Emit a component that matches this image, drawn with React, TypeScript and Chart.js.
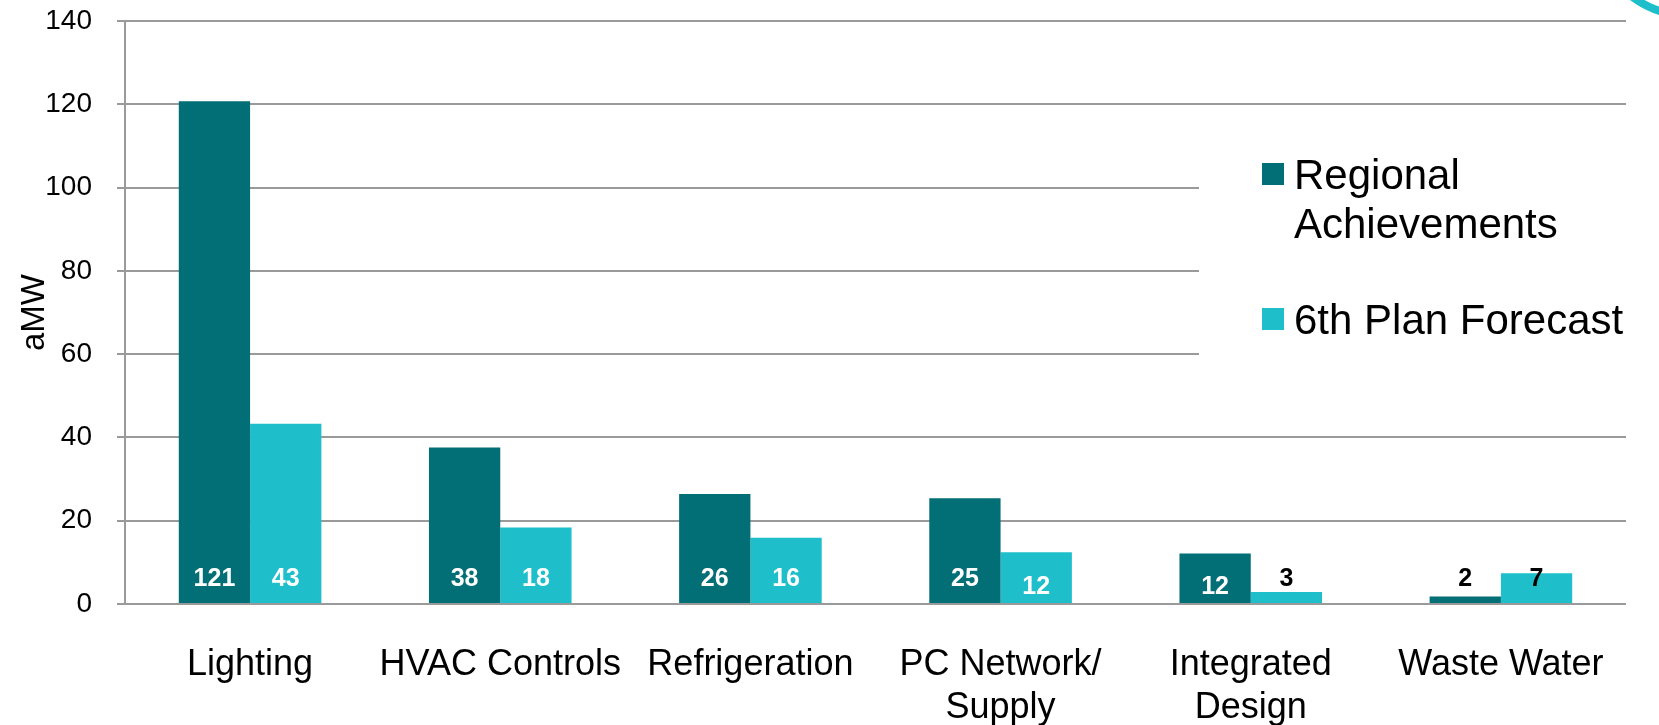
import { useEffect, useRef } from "react";
import { Chart, registerables } from "chart.js";

Chart.register(...registerables);

const categories: string[][] = [
  ["Lighting"],
  ["HVAC Controls"],
  ["Refrigeration"],
  ["PC Network/", "Supply"],
  ["Integrated", "Design"],
  ["Waste Water"],
];
const regionalAchievements = [120.7, 37.6, 26.4, 25.4, 12.1, 1.8];
const planForecast = [43.3, 18.4, 15.9, 12.4, 2.9, 7.4];
const seriesNames = ["Regional Achievements", "6th Plan Forecast"];
const legendLines = [["Regional", "Achievements"], ["6th Plan Forecast"]];
const yAxisTitle = "aMW";
const yMin = 0;
const yMax = 140;
const yStep = 20;

const DARK = "#026e75";
const LIGHT = "#1ebfcb";
const GRID = "#9a9a9a";
const FONT = "'Liberation Sans', Arial, sans-serif";

export default function App() {
  const ref = useRef<HTMLCanvasElement | null>(null);

  useEffect(() => {
    if (!ref.current) return;

    const labelPlugin = {
      id: "barLabels",
      afterDatasetsDraw(chart: any) {
        const ctx = chart.ctx;
        ctx.save();
        ctx.font = `bold 25px ${FONT}`;
        ctx.textAlign = "center";
        ctx.textBaseline = "middle";
        chart.data.datasets.forEach((ds: any, di: number) => {
          const meta = chart.getDatasetMeta(di);
          meta.data.forEach((bar: any, i: number) => {
            const v = ds.data[i] as number;
            const base = bar.base;
            const h = base - bar.y;
            let y: number;
            let color: string;
            if (v < 10) {
              color = "#000";
              y = base - 24;
            } else if (h < 60) {
              color = "#fff";
              y = base - 16;
            } else {
              color = "#fff";
              y = base - 24;
            }
            ctx.fillStyle = color;
            ctx.fillText(String(Math.round(v)), bar.x, y);
          });
        });
        ctx.restore();
      },
    };

    const legendPlugin = {
      id: "customLegend",
      beforeDatasetsDraw(chart: any) {
        const ctx = chart.ctx;
        ctx.save();
        ctx.fillStyle = "#fff";
        ctx.fillRect(1199, 118, 445, 302);
        ctx.restore();
      },
      afterDraw(chart: any) {
        const ctx = chart.ctx;
        ctx.save();
        ctx.font = `42px ${FONT}`;
        ctx.textAlign = "left";
        ctx.textBaseline = "alphabetic";
        const colors = [DARK, LIGHT];
        const starts = [189, 334];
        legendLines.forEach((lines, i) => {
          const by = starts[i];
          ctx.fillStyle = colors[i];
          ctx.fillRect(1262, by - 26, 22, 22);
          ctx.fillStyle = "#000";
          lines.forEach((t, j) => ctx.fillText(t, 1294, by + j * 49));
        });
        // decorative arc top-right
        ctx.beginPath();
        ctx.strokeStyle = LIGHT;
        ctx.lineWidth = 8;
        ctx.arc(1690, -80, 96, 0, Math.PI * 2);
        ctx.stroke();
        ctx.restore();
      },
    };

    const chart = new Chart(ref.current, {
      type: "bar",
      data: {
        labels: categories,
        datasets: [
          {
            label: seriesNames[0],
            data: regionalAchievements,
            backgroundColor: DARK,
            categoryPercentage: 0.57,
            barPercentage: 1,
          },
          {
            label: seriesNames[1],
            data: planForecast,
            backgroundColor: LIGHT,
            categoryPercentage: 0.57,
            barPercentage: 1,
          },
        ],
      },
      options: {
        animation: false,
        responsive: false,
        maintainAspectRatio: false,
        layout: { padding: { left: 0, right: 33, top: 0, bottom: 0 } },
        plugins: {
          legend: { display: false },
          tooltip: { enabled: false },
        },
        scales: {
          x: {
            grid: { display: false },
            border: { display: false },
            ticks: {
              color: "#000",
              font: { family: FONT, size: 36, lineHeight: 1.2 },
              padding: 31,
              autoSkip: false,
              maxRotation: 0,
              minRotation: 0,
            },
            afterFit(scale: any) {
              scale.height = 121;
            },
          },
          y: {
            min: yMin,
            max: yMax,
            grid: { color: GRID, lineWidth: 2, tickLength: 8 },
            border: { color: GRID, width: 2 },
            ticks: {
              stepSize: yStep,
              color: "#000",
              font: { family: FONT, size: 28 },
              padding: 25,
            },
            title: {
              display: true,
              text: yAxisTitle,
              color: "#000",
              font: { family: FONT, size: 33, lineHeight: 1 },
              padding: { top: 18, bottom: 0 },
            },
            afterFit(scale: any) {
              scale.width = 125;
              scale.paddingTop = 21;
              scale.paddingBottom = 0;
            },
          },
        },
      },
      plugins: [labelPlugin, legendPlugin],
    });
    return () => chart.destroy();
  }, []);

  return (
    <div style={{ position: "absolute", left: 0, top: 0, width: 1659, height: 725, background: "#fff" }}>
      <canvas ref={ref} width={1659} height={725} style={{ width: 1659, height: 725, display: "block" }} />
    </div>
  );
}
